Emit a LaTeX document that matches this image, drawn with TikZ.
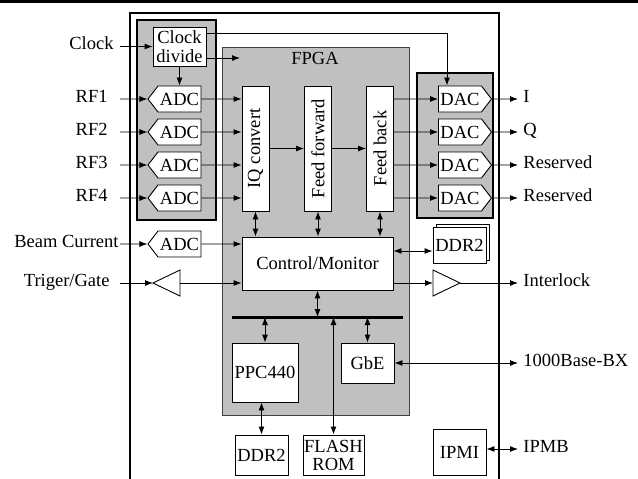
\documentclass[tikz,border=0pt]{standalone}
\usepackage{fontspec}
\setmainfont{Liberation Serif}
\usepackage{graphicx}
\usetikzlibrary{arrows.meta,positioning,shapes.symbols,shadows}
\definecolor{fpgagray}{RGB}{192,192,192}

\begin{document}
\begin{tikzpicture}[x=1pt, y=-1pt, line width=0.9pt,
    font=\fontsize{18.5}{19}\selectfont,
    block/.style={rectangle, draw, fill=white, align=center, inner sep=0pt,
                  minimum width=53pt, minimum height=26pt},
    adc/.style={signal, signal to=west, signal pointer angle=105, draw, fill=white,
                inner sep=0pt, minimum width=53pt, minimum height=26pt},
    dac/.style={adc, signal to=east},
    grp/.style={draw, line width=1.6pt, fill=fpgagray},
    inlbl/.style={anchor=east, inner xsep=12pt, inner ysep=0pt, text height=0.66em, text depth=0pt},
    outlbl/.style={anchor=west, inner xsep=5pt, inner ysep=0pt, text height=0.66em, text depth=0pt},
    arrow/.style={-{Latex[length=8pt,width=6pt]}},
    darrow/.style={{Latex[length=8pt,width=6pt]}-{Latex[length=8pt,width=6pt]}}
]
\useasboundingbox (0,0) rectangle (638,479);
\fill (0,0) rectangle (638,2.5);
\draw[line width=1.3pt] (130,490) |- (499,13) -- (499,490);

\draw[grp] (137,20) rectangle (216,220);
\draw[grp] (417,73) rectangle (493,218);
\draw[fill=fpgagray, draw=black!75] (222,47) rectangle (409,415);
\node (fpga) at (315,58) {FPGA};

\node[inlbl, inner xsep=6pt] (clk) at (120,46.5) {Clock};
\node[block, minimum height=39pt] (clkdiv) at (179.5,46.5) {Clock\\divide};
\foreach \i/\y/\t in {1/99/I,2/132/Q,3/165/Reserved,4/198/Reserved} {
  \node[inlbl] (rf\i) at (120,\y) {RF\i};
  \node[adc] (adc\i) at (179.5,\y) {ADC};
  \node[dac] (dac\i) at (460,\y) {DAC};
  \node[outlbl] (out\i) at (518,\y) {\t};
}
\node[block, minimum width=27pt, minimum height=125pt] (iq) at (255.5,148.5) {\rotatebox{90}{IQ convert}};
\node[block, minimum width=27pt, minimum height=125pt] (ff) at (318,148.5) {\rotatebox{90}{Feed forward}};
\node[block, minimum width=27pt, minimum height=125pt] (fb) at (380,148.5) {\rotatebox{90}{Feed back}};
\node[block, minimum width=151pt, minimum height=53pt] (ctrl) at (317.5,263.5) {Control/Monitor};

\node[inlbl, inner xsep=1pt] (beam) at (120,244) {Beam Current};
\node[adc] (adc5) at (179.5,244) {ADC};
\node[inlbl, inner xsep=10pt] (trig) at (120,283) {Triger/Gate};
\coordinate (trigin) at (153,283);
\coordinate (trigout) at (180,283);
\draw[fill=white] (trigin) -- (180,270) -- (180,296) -- cycle;
\coordinate (ilkin) at (433,283);
\coordinate (ilkout) at (460,283);
\draw[fill=white] (ilkout) -- (433,270) -- (433,296) -- cycle;
\node[outlbl] (ilk) at (518,283) {Interlock};
\node[block, minimum height=36pt, copy shadow={shadow xshift=3pt, shadow yshift=3pt}] (ddra) at (459.5,245) {DDR2};

\coordinate (busl) at (232,317);
\coordinate (busr) at (403,317);
\draw[line width=3pt] (busl) -- (busr);
\node[block, minimum width=66pt, minimum height=59pt] (ppc) at (265,372.5) {PPC440};
\node[block, minimum height=40pt] (gbe) at (367.5,363) {GbE};
\node[block, minimum height=40pt] (ddrb) at (261.5,455) {DDR2};
\node[block, minimum width=61pt, minimum height=40pt, font=\fontsize{18.5}{18}\selectfont] (flash) at (333.5,455) {FLASH\\ROM};
\node[block, minimum height=46pt] (ipmi) at (459.5,452) {IPMI};
\node[outlbl] (bx) at (518,363) {1000Base-BX};
\node[outlbl] (ipmb) at (518,449) {IPMB};

\coordinate (clkin) at (240,58);
\coordinate (clktop) at (447,33);
\draw[arrow] (clk) -- (clkdiv);
\draw[arrow] (clkdiv.east |- clkin) -- (clkin);
\draw[arrow] (clkdiv.east |- clktop) -- (clktop) -- (clktop |- dac1.north);
\draw[arrow] (clkdiv) -- (adc1);
\foreach \i in {1,...,4} {
  \draw[arrow] (rf\i) -- (adc\i);
  \draw[arrow] (adc\i) -- (adc\i -| iq.west);
  \draw[arrow] (dac\i -| fb.east) -- (dac\i);
  \draw[arrow] (dac\i) -- (out\i);
}
\draw[arrow] (iq) -- (ff);
\draw[arrow] (ff) -- (fb);
\foreach \n in {iq,ff,fb} \draw[darrow] (\n) -- (\n |- ctrl.north);
\draw[arrow] (beam) -- (adc5);
\draw[arrow] (adc5) -- (adc5 -| ctrl.west);
\draw[arrow] (trig) -- (trigin);
\draw[arrow] (trigout) -- (trigout -| ctrl.west);
\draw[arrow] (ctrl.east |- ilkin) -- (ilkin);
\draw[arrow] (ilkout) -- (ilk);
\coordinate (ddrin) at ([yshift=-6pt]ddra.west);
\draw[darrow] (ctrl.east |- ddrin) -- (ddrin);
\draw[darrow] (ctrl) -- (ctrl |- busl);
\draw[darrow] (ppc) -- (ppc |- busl);
\draw[darrow] (gbe) -- (gbe |- busl);
\draw[darrow] (flash) -- (flash |- busl);
\draw[darrow] (ddrb) -- (ddrb |- ppc.south);
\draw[darrow] (gbe) -- (bx);
\draw[darrow] (ipmi.east |- ipmb) -- (ipmb);
\end{tikzpicture}
\end{document}
